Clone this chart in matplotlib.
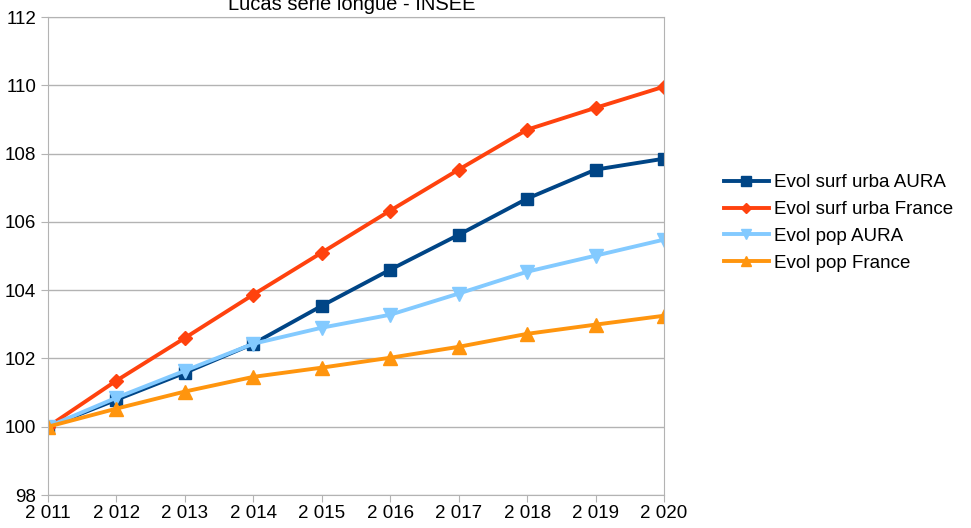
import matplotlib.pyplot as plt

plt.rcParams['font.family'] = ['Liberation Sans', 'DejaVu Sans']

years = [2011, 2012, 2013, 2014, 2015, 2016, 2017, 2018, 2019, 2020]
year_labels = ['2 011', '2 012', '2 013', '2 014', '2 015', '2 016', '2 017', '2 018', '2 019', '2 020']

surf_aura = [100, 100.79, 101.58, 102.43, 103.54, 104.60, 105.62, 106.68, 107.53, 107.85]
surf_france = [100, 101.35, 102.60, 103.87, 105.10, 106.33, 107.53, 108.70, 109.34, 109.96]
pop_aura = [100, 100.85, 101.64, 102.43, 102.90, 103.28, 103.90, 104.54, 105.01, 105.48]
pop_france = [100, 100.53, 101.03, 101.46, 101.73, 102.02, 102.34, 102.72, 102.99, 103.25]

fig = plt.figure(figsize=(9.71, 5.28), dpi=100)
ax = fig.add_axes([48 / 971, 33 / 528, 616 / 971, 478 / 528])

ax.plot(years, surf_aura, color='#004586', lw=2.8, marker='s', ms=9, label='Evol surf urba AURA')
ax.plot(years, surf_france, color='#ff420e', lw=2.8, marker='D', ms=7, label='Evol surf urba France')
ax.plot(years, pop_aura, color='#83caff', lw=2.8, marker='v', ms=10, label='Evol pop AURA')
ax.plot(years, pop_france, color='#ff950e', lw=2.8, marker='^', ms=10, label='Evol pop France')

ax.set_xlim(2011, 2020)
ax.set_ylim(98, 112)
ax.set_yticks(range(98, 113, 2))
ax.set_xticks(years)
ax.set_xticklabels(year_labels)
ax.grid(axis='y', color='#b3b3b3', lw=1)
ax.set_axisbelow(True)
for s in ax.spines.values():
    s.set_color('#b3b3b3')
ax.tick_params(colors='#b3b3b3', labelcolor='black', labelsize=13.5, length=5)
ax.tick_params(axis='x', pad=2)

fig.text(352 / 971, 1 - 10 / 528, 'Lucas série longue - INSEE', ha='center', va='baseline', fontsize=14.5)

ax.legend(loc='center left', bbox_to_anchor=(707 / 971, 1 - 223 / 528), bbox_transform=fig.transFigure,
          frameon=False, fontsize=13.5, handlelength=2.4, labelspacing=0.52, handletextpad=0.3,
          markerscale=0.75)

fig.savefig('out.png', dpi=100)
